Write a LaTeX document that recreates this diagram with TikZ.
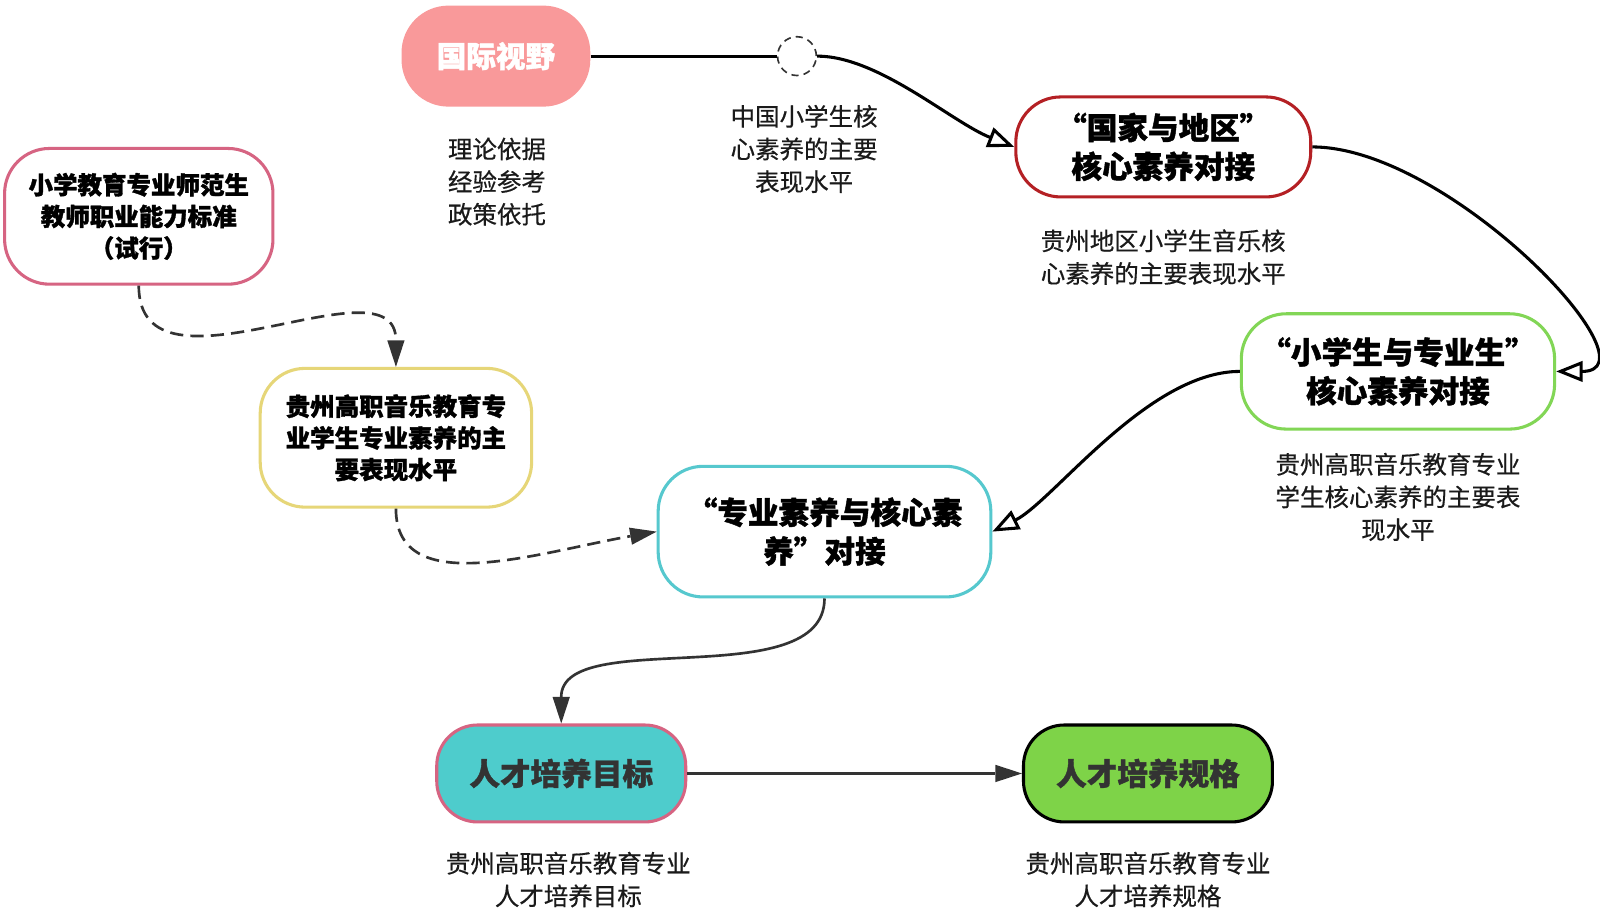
\documentclass[tikz,border=0pt]{standalone}
\usepackage{fontspec}
\setmainfont{Noto Sans CJK SC}
\newfontfamily\heavyfont{Noto Sans CJK SC}[BoldFeatures={FakeBold=1.3}]
\newfontfamily\lblfont{Noto Sans CJK SC}[FakeBold=0.5]
\usetikzlibrary{arrows.meta,calc}
\definecolor{pinkfill}{RGB}{249,153,154}
\definecolor{darkred}{RGB}{180,32,36}
\definecolor{rosered}{RGB}{214,100,130}
\definecolor{yellowb}{RGB}{230,214,120}
\definecolor{greenb}{RGB}{130,214,86}
\definecolor{cyanb}{RGB}{86,200,206}
\definecolor{cyanfill}{RGB}{78,204,204}
\definecolor{greenfill}{RGB}{126,211,72}
\definecolor{dgray}{RGB}{51,51,51}
\definecolor{txt}{RGB}{26,26,26}
\tikzset{
  box/.style={draw, line width=1.5pt, rounded corners=22pt, align=center, inner sep=0pt,
    fill=white, text=black},
  bigtxt/.style={font=\heavyfont\bfseries\fontsize{15}{19}\selectfont},
  smalltxt/.style={font=\heavyfont\bfseries\fontsize{12}{15.5}\selectfont},
  lbl/.style={align=center, inner sep=0pt, text=txt, font=\lblfont\fontsize{12}{16}\selectfont},
  conn/.style={line width=1.5pt, draw=black},
  dconn/.style={line width=1.3pt, draw=dgray, dash pattern=on 6.5pt off 3.5pt},
  gconn/.style={line width=1.3pt, draw=dgray},
  openarr/.style={-{Triangle[open,length=13pt,width=10pt]}},
  fillarr/.style={-{Triangle[length=13pt,width=8.5pt,fill=dgray,color=dgray,line width=0pt]}},
}
\begin{document}
\begin{tikzpicture}[x=0.5pt,y=-0.5pt]
\useasboundingbox (0,0) rectangle (1568,898);
\fill[white] (0,0) rectangle (1568,898);

% nodes
\node[draw=none, fill=pinkfill, rounded corners=23pt, minimum width=92.5pt, minimum height=49.5pt,
  text=white, font=\heavyfont\bfseries\fontsize{14.5}{18}\selectfont] (n1) at (486,55) {国际视野};
\node[circle, draw=dgray, line width=0.8pt, dash pattern=on 3.5pt off 2.5pt, minimum size=19pt, inner sep=0pt] (c) at (781,55) {};
\node[box, bigtxt, draw=darkred, minimum width=144.5pt, minimum height=49pt] (n3) at (1140,144) {“国家与地区”\\核心素养对接};
\node[box, smalltxt, draw=rosered, minimum width=131.5pt, minimum height=66.5pt] (n4) at (136,212) {小学教育专业师范生\\教师职业能力标准\\（试行）};
\node[box, smalltxt, draw=yellowb, minimum width=133pt, minimum height=68pt] (n5) at (388,429) {贵州高职音乐教育专\\业学生专业素养的主\\要表现水平};
\node[box, bigtxt, draw=greenb, minimum width=153.5pt, minimum height=56.5pt] (n6) at (1370,364) {“小学生与专业生”\\核心素养对接};
\node[box, bigtxt, draw=cyanb, minimum width=163pt, minimum height=64pt] (n7) at (808,521) {“专业素养与核心素\\养”对接};
\node[box, draw=rosered, fill=cyanfill, rounded corners=20pt, minimum width=122pt, minimum height=47.5pt,
  text=dgray, font=\heavyfont\bfseries\fontsize{15}{19}\selectfont] (n8) at (550,758) {人才培养目标};
\node[box, draw=black, fill=greenfill, rounded corners=20pt, minimum width=122pt, minimum height=47.5pt,
  text=dgray, font=\heavyfont\bfseries\fontsize{15}{19}\selectfont] (n9) at (1125,758) {人才培养规格};

% labels
\node[lbl] (l1) at (487,178) {理论依据\\经验参考\\政策依托};
\node[lbl] (l2) at (788,146) {中国小学生核\\心素养的主要\\表现水平};
\node[lbl] (l3) at (1140,252) {贵州地区小学生音乐核\\心素养的主要表现水平};
\node[lbl] (l4) at (1370,487) {贵州高职音乐教育专业\\学生核心素养的主要表\\现水平};
\node[lbl] (l5) at (557,862) {贵州高职音乐教育专业\\人才培养目标};
\node[lbl] (l6) at (1125,862) {贵州高职音乐教育专业\\人才培养规格};

% connectors
\draw[conn] (n1.east) -- (c.west);
\draw[conn, openarr] (c.east) .. controls ($(c.east)+(60,0)$) and ($(n3.west)+(-61,-24)$) .. (n3.west);
\draw[conn, openarr] (n3.east) .. controls ($(n3.east)+(135,0)$) and ($(n6.east)+(104,0)$) .. (n6.east);
\draw[conn, openarr] (n6.west) .. controls ($(n6.west)+(-90,0)$) and ($(n7.east)+(60,-30)$) .. (n7.east);
\draw[dconn, fillarr] (n4.south) .. controls ($(n4.south)+(0,122)$) and ($(n5.north)+(0,-111)$) .. (n5.north);
\draw[dconn, fillarr] (n5.south) .. controls ($(n5.south)+(0,90)$) and ($(n7.west)+(-115,20)$) .. (n7.west);
\draw[gconn, fillarr] (n7.south) .. controls ($(n7.south)+(0,95)$) and ($(n8.north)+(0,-96)$) .. (n8.north);
\draw[gconn, fillarr] (n8.east) -- (n9.west);
\end{tikzpicture}
\end{document}
